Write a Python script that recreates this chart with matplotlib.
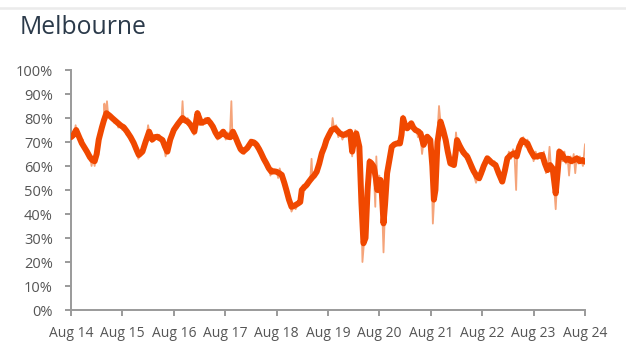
import matplotlib
matplotlib.use('Agg')
import matplotlib.pyplot as plt
import numpy as np
from matplotlib.lines import Line2D

plt.rcParams['font.family'] = ['Open Sans', 'DejaVu Sans']

# x positions are years since Aug 2014
tick_labels = ['Aug 14', 'Aug 15', 'Aug 16', 'Aug 17', 'Aug 18', 'Aug 19',
               'Aug 20', 'Aug 21', 'Aug 22', 'Aug 23', 'Aug 24']

# weekly series (thin line), (years since Aug 14, %)
weekly = [
    (0.00, 71), (0.03, 74), (0.06, 72), (0.09, 77), (0.12, 73), (0.15, 74), (0.19, 69), (0.23, 71),
    (0.27, 66), (0.31, 67), (0.34, 63), (0.37, 65), (0.40, 60), (0.43, 63), (0.46, 60), (0.49, 64),
    (0.52, 69), (0.56, 73), (0.60, 77), (0.63, 78), (0.65, 86), (0.67, 80), (0.70, 87), (0.72, 82),
    (0.76, 80), (0.80, 81), (0.84, 78), (0.88, 79), (0.92, 76), (0.96, 78), (1.00, 75), (1.04, 77),
    (1.08, 73), (1.12, 74), (1.16, 71), (1.20, 70), (1.24, 67), (1.28, 66), (1.31, 63), (1.35, 65),
    (1.39, 67), (1.43, 68), (1.47, 72), (1.50, 77), (1.53, 73), (1.57, 70), (1.60, 71), (1.64, 73),
    (1.68, 71), (1.72, 73), (1.76, 70), (1.80, 69), (1.84, 64), (1.88, 67), (1.92, 69), (1.96, 74),
    (2.00, 73), (2.04, 77), (2.08, 76), (2.12, 79), (2.15, 79), (2.17, 87), (2.19, 79), (2.23, 78),
    (2.27, 80), (2.31, 76), (2.35, 77), (2.39, 73), (2.42, 77), (2.46, 83), (2.49, 77), (2.53, 79),
    (2.57, 77), (2.61, 80), (2.65, 78), (2.69, 80), (2.73, 76), (2.77, 77), (2.81, 73), (2.85, 71),
    (2.89, 74), (2.93, 73), (2.97, 75), (3.01, 71), (3.05, 74), (3.09, 72), (3.12, 87), (3.14, 73),
    (3.17, 75), (3.21, 70), (3.25, 70), (3.29, 66), (3.33, 67), (3.37, 65), (3.41, 68), (3.45, 67),
    (3.49, 71), (3.53, 70), (3.57, 69), (3.61, 70), (3.65, 66), (3.69, 66), (3.73, 63), (3.77, 62),
    (3.81, 59), (3.85, 60), (3.88, 56), (3.92, 59), (3.96, 57), (4.00, 58), (4.03, 55), (4.06, 59),
    (4.10, 56), (4.14, 54), (4.18, 49), (4.22, 47), (4.26, 44), (4.29, 41), (4.33, 43), (4.37, 42),
    (4.41, 44), (4.45, 45), (4.48, 49), (4.51, 52), (4.55, 50), (4.59, 53), (4.63, 52), (4.66, 56),
    (4.68, 63), (4.70, 54), (4.74, 57), (4.78, 58), (4.82, 60), (4.86, 66), (4.90, 67), (4.94, 71),
    (4.98, 69), (5.02, 74), (5.06, 73), (5.09, 80), (5.12, 75), (5.16, 77), (5.20, 72), (5.24, 74),
    (5.28, 71), (5.32, 73), (5.36, 72), (5.40, 75), (5.44, 72), (5.47, 64), (5.50, 72), (5.53, 75),
    (5.57, 72), (5.61, 66), (5.64, 50), (5.67, 20), (5.70, 28), (5.73, 38), (5.77, 55), (5.80, 63),
    (5.83, 60), (5.86, 62), (5.89, 58), (5.92, 43), (5.94, 64), (5.97, 49), (6.00, 56), (6.03, 46),
    (6.06, 38), (6.08, 24), (6.11, 42), (6.14, 58), (6.18, 62), (6.21, 67), (6.25, 69), (6.29, 68),
    (6.33, 70), (6.37, 69), (6.41, 71), (6.44, 76), (6.46, 81), (6.49, 75), (6.52, 77), (6.55, 75),
    (6.58, 78), (6.61, 76), (6.64, 78), (6.67, 75), (6.71, 76), (6.75, 72), (6.79, 75), (6.83, 65),
    (6.86, 70), (6.90, 72), (6.94, 73), (6.98, 70), (7.01, 62), (7.04, 36), (7.07, 48), (7.10, 66),
    (7.13, 74), (7.16, 85), (7.19, 78), (7.22, 76), (7.26, 73), (7.30, 68), (7.34, 64), (7.38, 62),
    (7.42, 61), (7.46, 63), (7.49, 74), (7.52, 68), (7.56, 70), (7.60, 65), (7.64, 67), (7.68, 63),
    (7.72, 65), (7.76, 59), (7.80, 60), (7.84, 56), (7.88, 53), (7.92, 56), (7.96, 54), (8.00, 59),
    (8.04, 58), (8.08, 64), (8.12, 62), (8.16, 63), (8.20, 60), (8.24, 62), (8.28, 58), (8.32, 59),
    (8.36, 53), (8.40, 55), (8.44, 60), (8.48, 62), (8.52, 66), (8.56, 63), (8.60, 67), (8.63, 64),
    (8.66, 50), (8.68, 65), (8.72, 70), (8.76, 71), (8.80, 72), (8.84, 68), (8.88, 71), (8.92, 66),
    (8.96, 67), (9.00, 62), (9.04, 66), (9.08, 63), (9.12, 65), (9.16, 63), (9.20, 66), (9.24, 57),
    (9.28, 60), (9.31, 68), (9.34, 59), (9.38, 57), (9.41, 48), (9.43, 42), (9.46, 55), (9.49, 67),
    (9.52, 65), (9.56, 62), (9.60, 66), (9.63, 61), (9.66, 64), (9.69, 56), (9.72, 64), (9.75, 61),
    (9.78, 65), (9.81, 57), (9.84, 64), (9.87, 61), (9.90, 64), (9.93, 62), (9.96, 60), (10.00, 69),
]

# rolling average (thick line)
rolling = [
    (0.00, 72), (0.05, 73), (0.10, 75), (0.16, 72), (0.21, 69.5), (0.31, 66), (0.36, 64), (0.41, 62.5),
    (0.46, 62), (0.50, 65), (0.54, 71), (0.60, 76), (0.64, 79), (0.69, 82), (0.75, 81), (0.80, 80),
    (0.88, 78.5), (0.96, 77), (1.03, 76), (1.09, 74.3), (1.16, 72), (1.22, 69.6), (1.28, 66.5), (1.32, 64.6),
    (1.39, 66), (1.45, 70), (1.52, 74.3), (1.58, 71), (1.63, 72), (1.68, 72.2), (1.73, 71.5), (1.78, 70.8),
    (1.83, 68), (1.875, 66), (1.93, 71), (2.00, 75), (2.08, 77.5), (2.17, 80), (2.22, 79), (2.27, 78.5),
    (2.33, 77), (2.40, 74.3), (2.46, 82), (2.53, 78), (2.60, 78.5), (2.66, 79.2), (2.71, 78), (2.76, 76.4),
    (2.81, 74), (2.86, 72.2), (2.91, 73), (2.96, 74.3), (3.00, 73), (3.05, 72.2), (3.10, 72), (3.15, 74.3),
    (3.20, 72), (3.25, 69.4), (3.30, 67), (3.35, 66), (3.43, 67.5), (3.51, 70.1), (3.56, 69.8), (3.61, 68.8),
    (3.66, 67), (3.70, 65.3), (3.75, 63), (3.80, 61.1), (3.85, 59), (3.90, 57.6), (3.95, 57.8), (4.00, 57.6),
    (4.05, 57), (4.10, 56.3), (4.15, 53), (4.19, 50), (4.24, 46), (4.29, 43), (4.35, 43.5), (4.42, 44.4),
    (4.46, 45), (4.49, 50), (4.53, 51), (4.58, 52), (4.63, 53.5), (4.68, 54.9), (4.73, 56), (4.78, 57.6),
    (4.83, 61), (4.88, 65.3), (4.93, 68), (4.97, 70.8), (5.02, 73), (5.07, 75), (5.14, 75.7), (5.19, 74.5),
    (5.23, 73.6), (5.30, 72.9), (5.36, 73.5), (5.43, 74.3), (5.47, 66), (5.51, 71), (5.55, 73.6), (5.61, 68),
    (5.65, 45), (5.69, 27.8), (5.73, 30), (5.77, 50), (5.81, 61.8), (5.85, 61), (5.89, 59.7), (5.93, 55),
    (5.96, 50), (6.02, 54.2), (6.05, 48), (6.08, 36.1), (6.11, 44), (6.15, 57), (6.20, 63), (6.24, 68),
    (6.29, 69), (6.34, 69.4), (6.40, 69.4), (6.43, 73), (6.46, 79.9), (6.50, 77), (6.54, 75.7), (6.58, 76.5),
    (6.62, 77.8), (6.66, 76), (6.70, 75), (6.75, 74.5), (6.80, 73.6), (6.86, 68.8), (6.90, 71), (6.93, 72.2),
    (6.99, 70.8), (7.03, 60), (7.06, 46), (7.09, 50), (7.13, 70), (7.19, 78.5), (7.24, 75), (7.29, 70.8),
    (7.33, 66), (7.38, 61.1), (7.45, 60.4), (7.48, 65), (7.51, 70.8), (7.56, 68.5), (7.61, 66.5), (7.66, 65),
    (7.71, 63.9), (7.77, 61), (7.83, 58), (7.90, 55.5), (7.94, 54.9), (7.98, 57), (8.03, 60), (8.10, 63.2),
    (8.18, 61.5), (8.26, 60.4), (8.32, 57), (8.39, 53.5), (8.44, 58), (8.49, 63.2), (8.55, 64.5), (8.62, 65.3),
    (8.67, 64), (8.72, 68), (8.78, 70.8), (8.83, 70), (8.88, 69.4), (8.94, 66.5), (9.01, 63.9), (9.08, 64),
    (9.13, 64.5), (9.17, 64.6), (9.22, 61), (9.27, 58.3), (9.32, 60.4), (9.37, 59), (9.43, 48.6), (9.47, 58),
    (9.50, 66), (9.55, 65), (9.59, 63.5), (9.63, 62.5), (9.68, 63), (9.73, 62), (9.79, 62.5), (9.84, 63.2),
    (9.90, 62), (9.95, 62.5), (10.00, 61.8),
]

weekly = np.array(weekly)
rolling = np.array(rolling)

fig = plt.figure(figsize=(6.26, 3.47), dpi=100)
ax = fig.add_axes([71 / 626, 1 - 310 / 347, 514 / 626, 240 / 347])

# thin light border line at the top of the card
fig.add_artist(Line2D([0, 1], [1 - 8 / 347, 1 - 8 / 347], color='#ebebeb', linewidth=1.8,
                      transform=fig.transFigure))

ax.plot(weekly[:, 0], weekly[:, 1], color='#f5a47a', linewidth=1.3, zorder=2)
ax.plot(rolling[:, 0], rolling[:, 1], color='#f04800', linewidth=4.3,
        solid_joinstyle='round', solid_capstyle='round', zorder=3)

ax.set_xlim(0, 10)
ax.set_ylim(0, 100)
ax.set_xticks(range(11))
ax.set_xticklabels(tick_labels)
ax.set_yticks(range(0, 101, 10))
ax.set_yticklabels([f'{v}%' for v in range(0, 101, 10)])

for side in ['top', 'right']:
    ax.spines[side].set_visible(False)
for side in ['left', 'bottom']:
    ax.spines[side].set_color('#9a9a9a')
    ax.spines[side].set_linewidth(1.4)
ax.tick_params(axis='both', colors='#9a9a9a', length=4.5, width=1.4, labelcolor='#555555')
ax.tick_params(axis='x', pad=7, labelsize=10)
ax.tick_params(axis='y', pad=8.5, labelsize=10.5)

fig.text(20 / 626, 1 - 28 / 347, 'Melbourne', fontsize=17.8, color='#2b3a4a', va='center', ha='left')

plt.savefig('out.png', dpi=100)
plt.close()
